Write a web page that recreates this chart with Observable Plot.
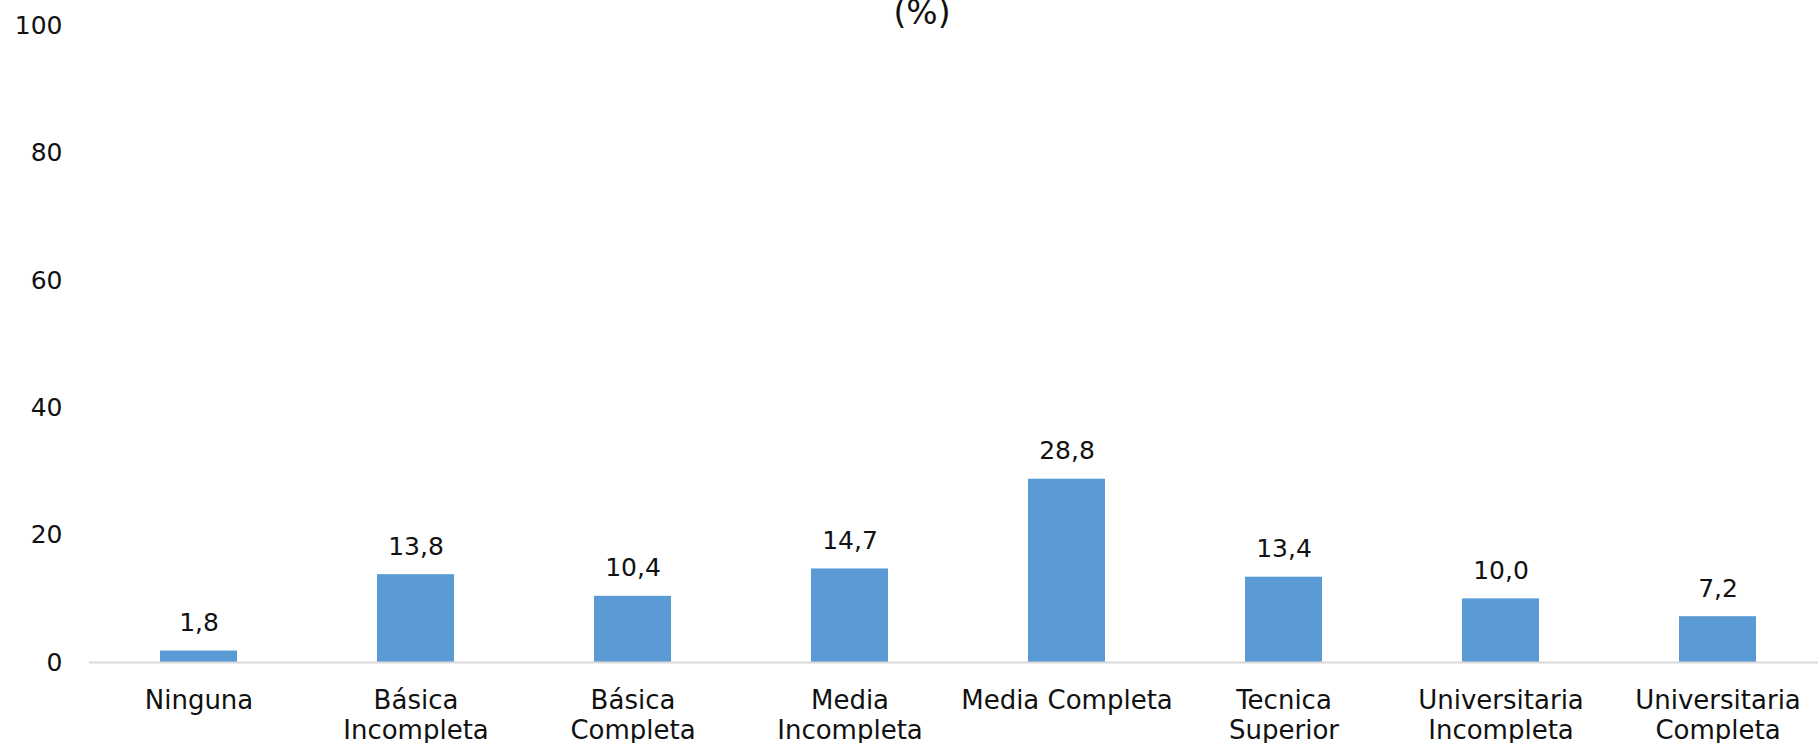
<!DOCTYPE html>
<html>
<head>
<meta charset="utf-8">
<script src="https://cdn.jsdelivr.net/npm/d3@7"></script>
<script src="https://cdn.jsdelivr.net/npm/@observablehq/plot@0.6"></script>
<style>
  html, body { margin: 0; padding: 0; background: #fff; overflow: hidden; }
  #wrap { position: relative; width: 1818px; height: 743px; }
  #title { position: absolute; left: 822px; width: 200px; top: -4px; text-align: center;
           font-family: "DejaVu Sans", Verdana, sans-serif; font-size: 33px; line-height: 1; color: #111; }
  svg { display: block; }
</style>
</head>
<body>
<div id="wrap">
  <div id="chart"></div>
  <div id="title">(%)</div>
</div>
<script>
const categories = ["Ninguna", "Básica Incompleta", "Básica Completa", "Media Incompleta",
                    "Media Completa", "Tecnica Superior", "Universitaria Incompleta", "Universitaria Completa"];
const tickLabels = ["Ninguna", "Básica\nIncompleta", "Básica\nCompleta", "Media\nIncompleta",
                    "Media Completa", "Tecnica\nSuperior", "Universitaria\nIncompleta", "Universitaria\nCompleta"];
const values = [1.8, 13.8, 10.4, 14.7, 28.8, 13.4, 10.0, 7.2];
const yTicks = [0, 20, 40, 60, 80, 100];

const data = categories.map((c, i) => ({category: c, value: values[i]}));
const labelOf = new Map(categories.map((c, i) => [c, tickLabels[i]]));
const fmt = v => v.toFixed(1).replace(".", ",");

const chart = Plot.plot({
  width: 1818,
  height: 743,
  marginTop: 25.5,
  marginBottom: 81,
  marginLeft: 89,
  marginRight: 0,
  style: {fontFamily: "'DejaVu Sans', Verdana, sans-serif", fontSize: "25px", color: "#111", background: "#fff"},
  x: {domain: categories, range: [89, 1827], paddingInner: 0.645, paddingOuter: 0.3225, label: null},
  y: {domain: [0, 100], label: null},
  marks: [
    Plot.axisY({ticks: yTicks, tickSize: 0, tickPadding: 27, label: null, fontSize: 25}),
    Plot.axisX({tickSize: 0, tickPadding: 25, label: null, fontSize: 26, lineHeight: 1.15,
                tickFormat: d => labelOf.get(d)}),
    Plot.barY(data, {x: "category", y: "value", fill: "#5B9BD5"}),
    Plot.ruleY([0], {stroke: "#D9D9D9", strokeWidth: 2}),
    Plot.text(data, {x: "category", y: "value", text: d => fmt(d.value), lineAnchor: "middle",
                     dy: -28, fontSize: 25, fill: "#111"})
  ]
});
document.getElementById("chart").appendChild(chart);
</script>
</body>
</html>
